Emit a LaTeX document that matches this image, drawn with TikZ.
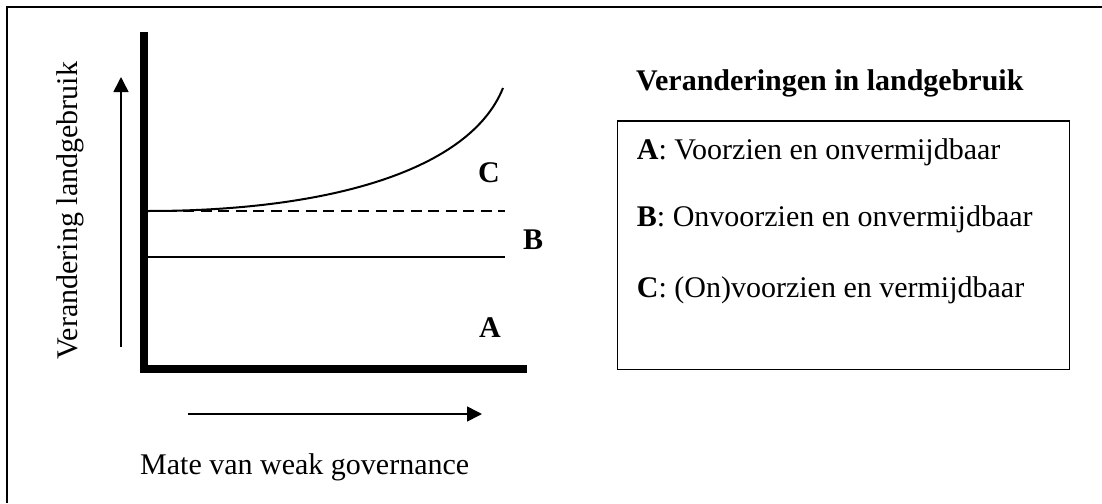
\documentclass[tikz,border=0pt]{standalone}
\usepackage{fontspec}
\setmainfont{Liberation Serif}
\usetikzlibrary{arrows.meta}
\tikzset{
  lbl/.style={inner sep=0pt, anchor=base west, font=\fontsize{30}{36}\selectfont},
  blbl/.style={lbl, font=\fontsize{30}{36}\selectfont\bfseries},
  axisline/.style={line width=7.5pt, line join=miter},
  dirarrow/.style={line width=1.6pt, -{Triangle[length=15pt,width=15pt]}},
  frameline/.style={line width=2pt},
  levelline/.style={line width=2pt},
}
\begin{document}
\begin{tikzpicture}[x=1pt, y=-1pt]
\useasboundingbox (0,0) rectangle (1102,503);
% outer frame (cropped)
\coordinate (fbl) at (6.5,503);
\coordinate (ftl) at (6.5,7);
\coordinate (ftr) at (1102,7);
\draw[frameline] (fbl) -- (ftl) -- (ftr);
% axes
\coordinate (ytop) at (144,32);
\coordinate (orig) at (144,369);
\coordinate (xend) at (527,369);
\draw[axisline] (ytop) -- (orig) -- (xend);
% direction arrows
\coordinate (va0) at (121,347);
\coordinate (va1) at (121,77);
\draw[dirarrow] (va0) -- (va1);
\coordinate (ha0) at (188,414);
\coordinate (ha1) at (482,414);
\draw[dirarrow] (ha0) -- (ha1);
% level lines
\coordinate (d0) at (148,211);
\coordinate (d1) at (505,211);
\draw[line width=1.6pt, dash pattern=on 11pt off 6.5pt] (d0) -- (d1);
\coordinate (s0) at (148,256.5);
\coordinate (s1) at (505,256.5);
\draw[levelline] (s0) -- (s1);
% curve
\coordinate (c1) at (503,88);
\draw[levelline] (d0) .. controls (330,211) and (470,170) .. (c1);
% region labels
\node[blbl] (labC) at (478,182) {C};
\node[blbl] (labB) at (523,249) {B};
\node[blbl] (labA) at (479,337) {A};
% axis labels
\node[lbl, rotate=90, anchor=base] (ylab) at (77.5,210.7) {Verandering landgebruik};
\node[lbl] (xlab) at (140,474) {Mate van weak governance};
% legend
\node[blbl] (ltitle) at (636,90.7) {Veranderingen in landgebruik};
\draw[line width=1.5pt] (617.3,121) rectangle (1069.3,369.3);
\node[lbl] (la) at (636.7,159.3) {\textbf{A}: Voorzien en onvermijdbaar};
\node[lbl] (lb) at (636.7,226.7) {\textbf{B}: Onvoorzien en onvermijdbaar};
\node[lbl] (lc) at (636.7,297) {\textbf{C}: (On)voorzien en vermijdbaar};
\end{tikzpicture}
\end{document}
